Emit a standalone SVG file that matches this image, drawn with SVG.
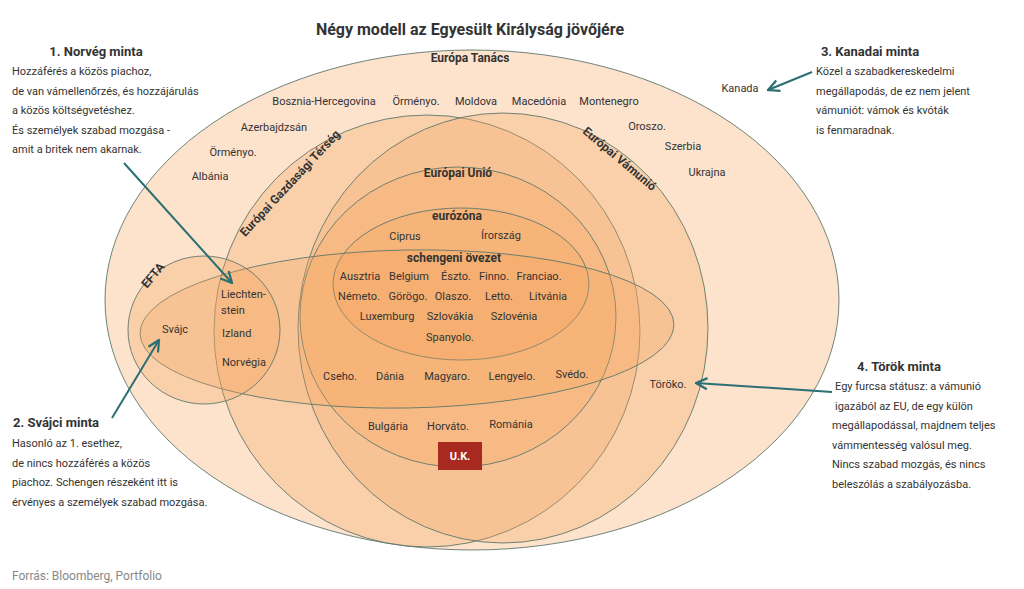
<svg xmlns="http://www.w3.org/2000/svg" width="1024" height="589" viewBox="0 0 1024 589">
<style>
text{font-family:Roboto,"Liberation Sans",sans-serif;fill:#333;font-size:11px}
.c{text-anchor:middle}
.h{font-weight:bold;font-size:13px;fill:#333}
.b{font-weight:bold;font-size:12px}
.s{fill:#f4a460;fill-opacity:0.3;stroke:#5f776c;stroke-width:0.9}
.ln{stroke:#2a6f73;stroke-width:2;fill:none;marker-end:url(#a)}
</style>
<defs><marker id="a" viewBox="0 0 10 10" refX="9" refY="5" markerWidth="7" markerHeight="7" orient="auto"><path d="M1,1 L9,5 L1,9" fill="none" stroke="#2a6f73" stroke-width="1.6"/></marker></defs>
<rect width="1024" height="589" fill="#fff"/>
<text x="470" y="35" class="c h" style="font-size:16px">Négy modell az Egyesült Királyság jövőjére</text>
<g id="shapes">
<ellipse id="europa-tanacs" cx="472" cy="300" rx="367" ry="250" fill="#fde2cc" stroke="#5f776c" stroke-width="0.9"/>
<ellipse id="eea" class="s" cx="427" cy="331" rx="213" ry="216"/>
<ellipse id="vamunio" class="s" cx="503" cy="328" rx="205" ry="215"/>
<ellipse id="eu" class="s" cx="458" cy="317" rx="158" ry="150"/>
<ellipse id="eurozona" class="s" cx="461" cy="284" rx="128" ry="76"/>
<ellipse id="schengen" class="s" cx="407" cy="329" rx="267" ry="79" transform="rotate(-1 407 329)"/>
<ellipse id="efta" class="s" cx="204" cy="330" rx="76" ry="74"/>
<rect id="uk" x="438" y="442" width="44" height="28" fill="#a8291f"/>
</g>
<g id="europa-tanacs-labels">
<text x="470" y="62" class="c b">Európa Tanács</text>
<text x="324" y="105" class="c">Bosznia-Hercegovina</text><text x="416" y="105" class="c">Örményo.</text><text x="476" y="105" class="c">Moldova</text><text x="539" y="105" class="c">Macedónia</text><text x="609" y="105" class="c">Montenegro</text>
<text x="274" y="131" class="c">Azerbajdzsán</text><text x="233" y="156" class="c">Örményo.</text><text x="210" y="180" class="c">Albánia</text>
<text x="647" y="130" class="c">Oroszo.</text><text x="683" y="150" class="c">Szerbia</text><text x="707" y="176" class="c">Ukrajna</text>
</g>
<g id="eea-labels"><text class="b" transform="translate(293,186) rotate(-47)" text-anchor="middle">Európai Gazdasági Térség</text></g>
<g id="vamunio-labels"><text class="b" transform="translate(617,162) rotate(40)" text-anchor="middle">Európai Vámunió</text>
<text x="668" y="388" class="c">Töröko.</text></g>
<g id="eu-labels">
<text x="458" y="177" class="c b">Európai Unió</text>
<text x="340" y="380" class="c">Cseho.</text><text x="390" y="380" class="c">Dánia</text><text x="447" y="380" class="c">Magyaro.</text><text x="512" y="380" class="c">Lengyelo.</text><text x="572" y="378" class="c">Svédo.</text>
<text x="388" y="430" class="c">Bulgária</text><text x="448" y="430" class="c">Horváto.</text><text x="511" y="428" class="c">Románia</text></g>
<g id="eurozona-labels">
<text x="457" y="220" class="c b">eurózóna</text>
<text x="405" y="240" class="c">Ciprus</text><text x="501" y="239" class="c">Írország</text></g>
<g id="schengen-labels">
<text x="454" y="262" class="c b">schengeni övezet</text>
<text x="360" y="280" class="c">Ausztria</text><text x="409" y="280" class="c">Belgium</text><text x="456" y="280" class="c">Észto.</text><text x="494" y="280" class="c">Finno.</text><text x="539" y="280" class="c">Franciao.</text>
<text x="359" y="300" class="c">Németo.</text><text x="408" y="300" class="c">Görögo.</text><text x="453" y="300" class="c">Olaszo.</text><text x="499" y="300" class="c">Letto.</text><text x="548" y="300" class="c">Litvánia</text>
<text x="387" y="320" class="c">Luxemburg</text><text x="450" y="320" class="c">Szlovákia</text><text x="514" y="320" class="c">Szlovénia</text>
<text x="450" y="341" class="c">Spanyolo.</text></g>
<g id="efta-labels">
<text class="b" transform="translate(156,278) rotate(-50)" text-anchor="middle">EFTA</text>
<text x="175" y="333" class="c">Svájc</text>
<text x="221" y="298">Liechten-</text><text x="221" y="314">stein</text><text x="222" y="337">Izland</text><text x="222" y="366">Norvégia</text></g>
<g id="uk-label"><text x="460" y="460" class="c" style="fill:#fff;font-weight:bold">U.K.</text></g>
<g id="norveg"><text x="96" y="56" class="c h">1. Norvég minta</text>
<text x="12" y="75">Hozzáférés a közös piachoz,</text><text x="12" y="95">de van vámellenőrzés, és hozzájárulás</text><text x="12" y="114">a közös költségvetéshez.</text><text x="12" y="134">És személyek szabad mozgása -</text><text x="12" y="153">amit a britek nem akarnak.</text></g>
<g id="svajci"><text x="56" y="427" class="c h">2. Svájci minta</text>
<text x="12" y="447">Hasonló az 1. esethez,</text><text x="12" y="467">de nincs hozzáférés a közös</text><text x="12" y="486">piachoz. Schengen részeként itt is</text><text x="12" y="506">érvényes a személyek szabad mozgása.</text></g>
<g id="kanadai"><text x="870" y="56" class="c h">3. Kanadai minta</text>
<text x="816" y="75">Közel a szabadkereskedelmi</text><text x="816" y="95">megállapodás, de ez nem jelent</text><text x="816" y="114">vámuniót: vámok és kvóták</text><text x="816" y="134">is fenmaradnak.</text>
<text x="740" y="92" class="c">Kanada</text></g>
<g id="torok"><text x="899" y="371" class="c h">4. Török minta</text>
<text x="835" y="390">Egy furcsa státusz: a vámunió</text><text x="835" y="410">igazából az EU, de egy külön</text><text x="832" y="429">megállapodással, majdnem teljes</text><text x="832" y="449">vámmentesség valósul meg.</text><text x="832" y="468">Nincs szabad mozgás, és nincs</text><text x="832" y="488">beleszólás a szabályozásba.</text></g>
<text x="12" y="580" style="fill:#888;font-size:12px">Forrás: Bloomberg, Portfolio</text>
<g id="connectors">
<line class="ln" x1="124" y1="163" x2="232" y2="283"/>
<line class="ln" x1="112" y1="418" x2="159" y2="340"/>
<line class="ln" x1="812" y1="72" x2="768" y2="90"/>
<line class="ln" x1="832" y1="392" x2="696" y2="383"/>
</g>
</svg>
